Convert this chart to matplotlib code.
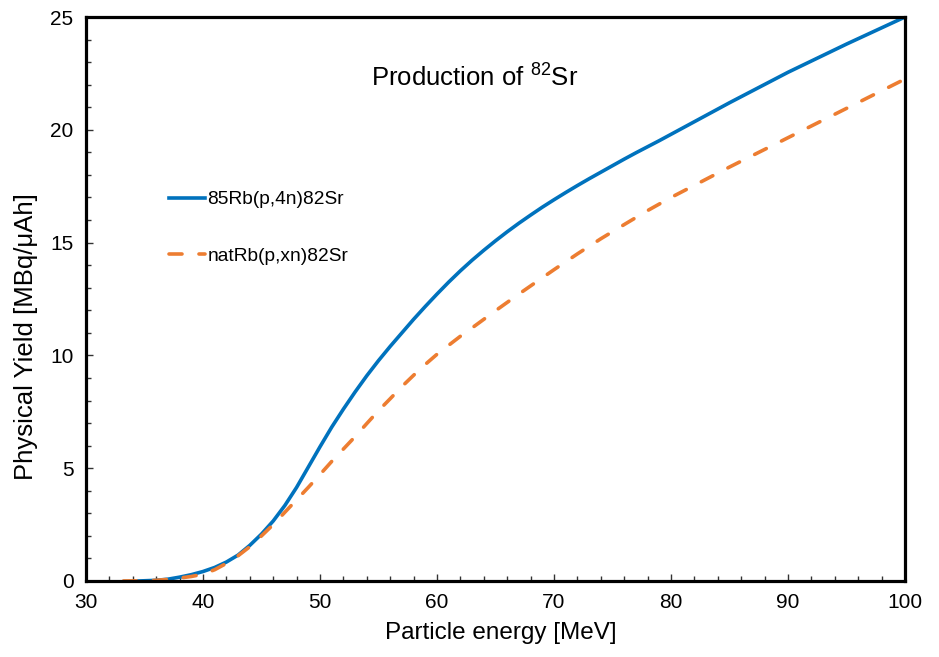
import numpy as np
import matplotlib.pyplot as plt
from matplotlib.ticker import MultipleLocator

plt.rcParams['font.family'] = ['Liberation Sans', 'DejaVu Sans']
plt.rcParams['mathtext.fontset'] = 'custom'
plt.rcParams['mathtext.rm'] = 'Liberation Sans'
plt.rcParams['mathtext.default'] = 'regular'

# 85Rb(p,4n)82Sr
e_rb85 = [34.5, 36, 37, 38, 39, 40, 41, 42, 43, 44, 45, 46, 47, 48, 49, 50, 51, 52,
          53, 54, 55, 56, 57, 58, 59, 60, 61, 62, 63, 64, 65, 66, 67, 68, 69, 70,
          71, 72, 73, 74, 75, 76, 77, 78, 79, 80, 85, 90, 95, 100]
y_rb85 = [0, 0.03, 0.08, 0.17, 0.28, 0.42, 0.6, 0.84, 1.15, 1.58, 2.08, 2.66, 3.35,
          4.15, 5.05, 5.95, 6.82, 7.62, 8.38, 9.1, 9.77, 10.4, 11.0, 11.6, 12.17,
          12.72, 13.25, 13.75, 14.22, 14.66, 15.08, 15.48, 15.86, 16.22, 16.57, 16.9,
          17.22, 17.53, 17.83, 18.12, 18.41, 18.7, 18.98, 19.25, 19.52, 19.8, 21.2,
          22.55, 23.8, 25.0]

# natRb(p,xn)82Sr
e_nat = [33.2, 35, 36, 37, 38, 39, 40, 41, 42, 43, 44, 45, 46, 47, 48, 49, 50, 51,
         52, 53, 54, 55, 56, 57, 58, 59, 60, 61, 62, 63, 64, 65, 66, 67, 68, 69, 70,
         72, 74, 76, 78, 80, 85, 90, 95, 100]
y_nat = [0, 0.01, 0.03, 0.07, 0.13, 0.2, 0.3, 0.5, 0.78, 1.12, 1.52, 2.0, 2.5, 3.05,
         3.6, 4.15, 4.72, 5.3, 5.85, 6.4, 6.98, 7.55, 8.08, 8.62, 9.12, 9.6, 10.05,
         10.45, 10.85, 11.22, 11.6, 11.98, 12.35, 12.72, 13.08, 13.44, 13.8, 14.5,
         15.17, 15.8, 16.42, 17.0, 18.35, 19.65, 20.95, 22.25]

fig = plt.figure(figsize=(9.39, 6.57), dpi=100)
ax = fig.add_axes([0.0916, 0.1157, 0.8722, 0.8584])

ax.plot(e_rb85, y_rb85, color='#0072BD', lw=2.6, label='85Rb(p,4n)82Sr')
ax.plot(e_nat, y_nat, color='#ED7D31', lw=2.6, linestyle=(0, (3.6, 4.7)),
        dash_capstyle='round', label='natRb(p,xn)82Sr')

ax.set_xlim(30, 100)
ax.set_ylim(0, 25)
ax.xaxis.set_major_locator(MultipleLocator(10))
ax.xaxis.set_minor_locator(MultipleLocator(2))
ax.yaxis.set_major_locator(MultipleLocator(5))
ax.yaxis.set_minor_locator(MultipleLocator(1))
ax.tick_params(which='both', direction='in', top=False, right=False,
               labelsize=15, color='#333333', width=1)
ax.tick_params(which='major', length=5, pad=9)
ax.tick_params(which='minor', length=3.5)
for s in ax.spines.values():
    s.set_linewidth(2.3)
    s.set_color('black')

ax.set_xlabel('Particle energy [MeV]', fontsize=17.5, labelpad=7)
ax.xaxis.set_label_coords(0.507, -0.073)
ax.set_ylabel('Physical Yield [MBq/\u03bcAh]', fontsize=18.5)
ax.yaxis.set_label_coords(-0.059, 0.434)

ax.text(0.475, 0.892, 'Production of $^{82}$Sr', transform=ax.transAxes,
        ha='center', va='center', fontsize=18.5)

ax.legend(loc='upper left', bbox_to_anchor=(0.092, 0.705), frameon=False,
          fontsize=13.8, handlelength=1.9, handletextpad=0.1, labelspacing=2.05,
          borderaxespad=0)

fig.savefig('out.png', dpi=100)
